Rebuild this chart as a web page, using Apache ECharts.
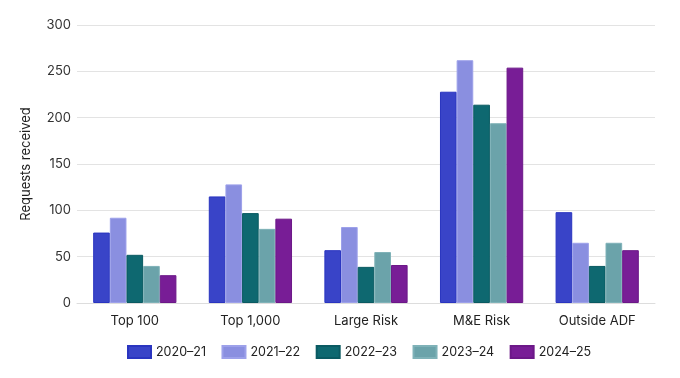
<!DOCTYPE html>
<html><head><meta charset="utf-8">
<script src="https://cdn.jsdelivr.net/npm/echarts@6/dist/echarts.min.js"></script>
<style>html,body{margin:0;padding:0;background:#fff}#c{width:680px;height:378px}</style>
</head><body><div id="c"></div>
<script>
var categories = ['Top 100', 'Top 1,000', 'Large Risk', 'M&E Risk', 'Outside ADF'];
var years = ['2020–21', '2021–22', '2022–23', '2023–24', '2024–25'];
var v2020 = [76, 115, 57, 228, 98];
var v2021 = [92, 128, 82, 262, 65];
var v2022 = [52, 97, 39, 214, 40];
var v2023 = [40, 80, 55, 194, 65];
var v2024 = [30, 91, 41, 254, 57];
var yTicks = [0, 50, 100, 150, 200, 250, 300];

var values = [v2020, v2021, v2022, v2023, v2024];
var fills = ['#3944c8', '#8a8fe0', '#0e6870', '#6ba3aa', '#781d96'];
var borders = ['#2a35c0', '#9da1ea', '#0a5a62', '#7fb2b8', '#6c1888'];
var font = 'Inter, Roboto, sans-serif';

var chart = echarts.init(document.getElementById('c'));
chart.setOption({
  animation: false,
  textStyle: {fontFamily: font},
  grid: {left: 77, right: 25, top: 25, bottom: 75, containLabel: false},
  legend: {
    bottom: 14, left: 122, itemWidth: 23, itemHeight: 12, itemGap: 15.5,
    icon: 'rect',
    textStyle: {fontFamily: font, fontSize: 12.5, color: '#222'},
    data: years
  },
  xAxis: {
    type: 'category', data: categories,
    axisLine: {lineStyle: {color: '#dddddd'}},
    axisTick: {alignWithLabel: true, length: 5, lineStyle: {color: '#dddddd'}},
    axisLabel: {fontFamily: font, fontSize: 13, color: '#222', margin: 12}
  },
  yAxis: {
    type: 'value', min: yTicks[0], max: yTicks[yTicks.length - 1], interval: 50,
    name: 'Requests received', nameLocation: 'middle', nameGap: 44,
    nameTextStyle: {fontFamily: font, fontSize: 13, color: '#222'},
    axisLine: {show: false}, axisTick: {show: false},
    splitLine: {lineStyle: {color: '#e3e3e3'}},
    axisLabel: {fontFamily: font, fontSize: 13, color: '#333', margin: 6}
  },
  series: years.map(function (y, i) {
    return {
      name: y, type: 'bar', data: values[i],
      barGap: '0%', barCategoryGap: '28%',
      itemStyle: {color: fills[i], borderColor: borders[i], borderWidth: 1}
    };
  })
});
</script></body></html>
